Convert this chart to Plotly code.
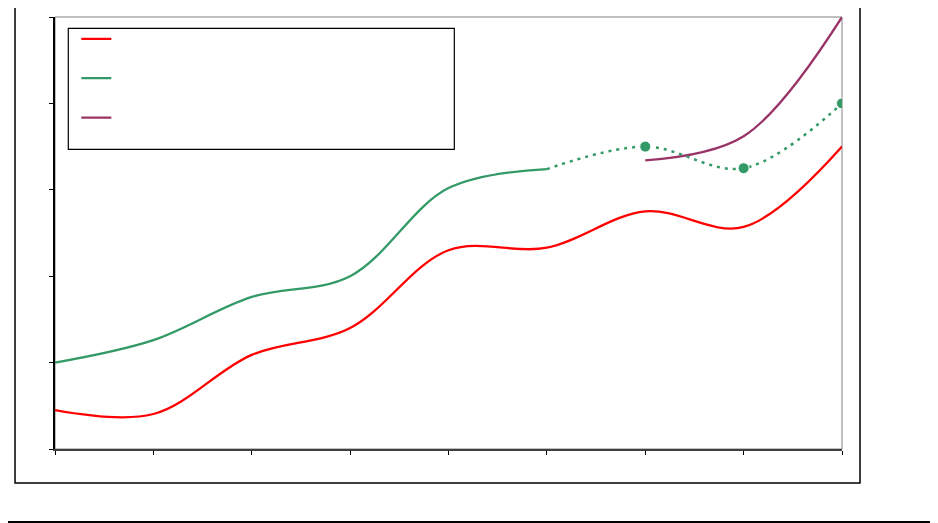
import plotly.graph_objects as go

# Data (x positions are category indices 0..8, y in chart units 0..50)
x_vals = [0, 1, 2, 3, 4, 5, 6, 7, 8]
red_vals = [4.5, 4.05, 10.9, 14.0, 23.0, 23.3, 27.5, 25.7, 35.0]
green_x = [0, 1, 2, 3, 4, 5]
green_vals = [10.0, 12.6, 17.6, 20.0, 30.2, 32.4]
green_proj_x = [5, 6, 7, 8]
green_proj_vals = [32.4, 35.0, 32.5, 40.0]
green_proj_marker = [0, 11, 11, 11]
purple_x = [6, 7, 8]
purple_vals = [33.4, 36.2, 50.0]

RED = "#FF0000"
GREEN = "#339966"
PURPLE = "#993366"

blank_name = "&nbsp;" * 70 + "<br>&nbsp;"

fig = go.Figure()
fig.add_trace(go.Scatter(x=x_vals, y=red_vals, mode="lines", name=blank_name,
                         line=dict(color=RED, width=2.3, shape="spline", smoothing=1.0)))
fig.add_trace(go.Scatter(x=green_x, y=green_vals, mode="lines", name=blank_name,
                         line=dict(color=GREEN, width=2.3, shape="spline", smoothing=1.0)))
fig.add_trace(go.Scatter(x=purple_x, y=purple_vals, mode="lines", name=blank_name,
                         line=dict(color=PURPLE, width=2.3, shape="spline", smoothing=1.0)))
fig.add_trace(go.Scatter(x=green_proj_x, y=green_proj_vals, mode="lines+markers", showlegend=False,
                         line=dict(color=GREEN, width=2.5, dash="3px,5px", shape="spline", smoothing=1.0),
                         marker=dict(color=GREEN, size=green_proj_marker, opacity=1)))

fig.update_layout(
    width=930, height=515,
    margin=dict(l=47, r=96, t=9, b=74),
    paper_bgcolor="white", plot_bgcolor="white",
    font=dict(family="Liberation Sans, Arial", size=14, color="black"),
    showlegend=True,
    legend=dict(x=0.0271, y=0.9856, xanchor="left", yanchor="top",
                borderwidth=0, bgcolor="rgba(0,0,0,0)",
                valign="top", tracegroupgap=0, traceorder="normal"),
    xaxis=dict(range=[0, 8], tickvals=x_vals, showticklabels=False, showgrid=False,
               zeroline=False, showline=True, linecolor="#404040", linewidth=1.5,
               ticks="outside", ticklen=4, tickcolor="black", tickwidth=1),
    yaxis=dict(range=[0, 50], dtick=10, showticklabels=False, showgrid=False,
               zeroline=False, showline=True, linecolor="black", linewidth=1.5,
               ticks="outside", ticklen=4, tickcolor="black", tickwidth=1),
    shapes=[
        dict(type="rect", xref="paper", yref="paper", x0=0, y0=0, x1=1, y1=1,
             line=dict(color="#808080", width=1), layer="below"),
        dict(type="rect", xref="paper", yref="paper", x0=-0.0508, x1=1.0229,
             y0=-0.0787, y1=1.0382, line=dict(color="black", width=1.5), layer="below"),
        dict(type="line", xref="paper", yref="paper", x0=-0.0699, x1=1.122,
             y0=-0.1696, y1=-0.1696, line=dict(color="black", width=2.5)),
        # legend frame
        dict(type="rect", xref="paper", yref="paper", x0=0.0169, x1=0.5074,
             y0=0.6937, y1=0.9738, line=dict(color="black", width=1.2),
             fillcolor="white", layer="above"),
    ],
)

fig.write_html("out.html")
